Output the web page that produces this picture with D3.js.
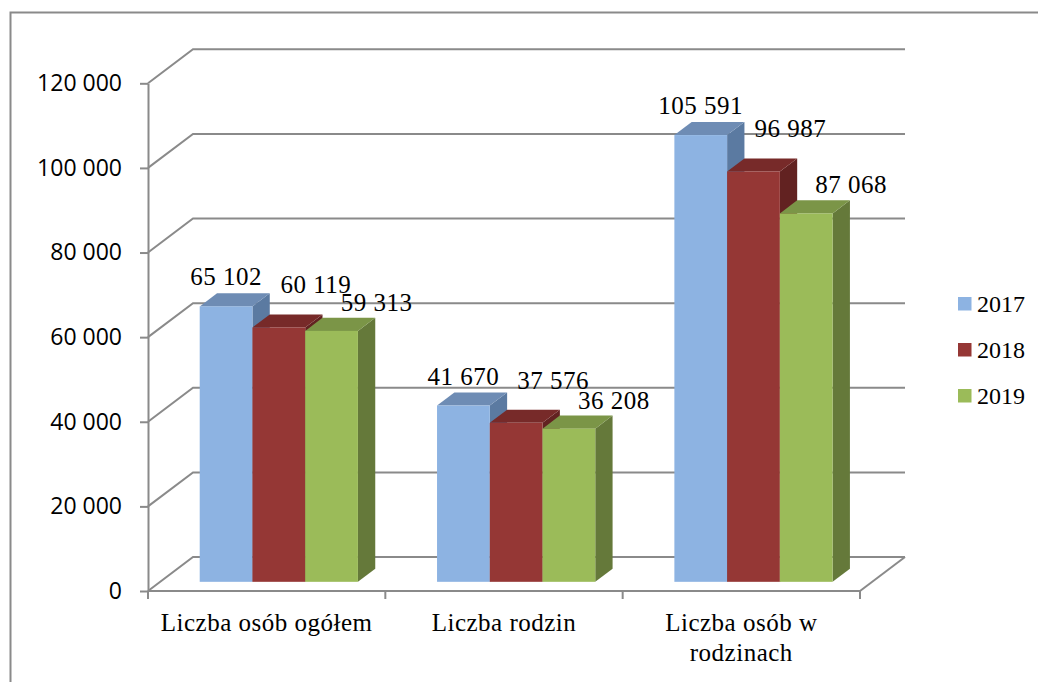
<!DOCTYPE html>
<html>
<head>
<meta charset="utf-8">
<script src="https://cdn.jsdelivr.net/npm/d3@7"></script>
<style>
  html, body { margin: 0; padding: 0; background: #ffffff; }
  svg { display: block; }
</style>
</head>
<body>
<svg id="chart" width="1038" height="682"></svg>
<script>
// ---- data ----
const categories = ["Liczba osób ogółem", "Liczba rodzin", "Liczba osób w rodzinach"];
const series = ["2017", "2018", "2019"];
const values2017 = [65102, 41670, 105591];
const values2018 = [60119, 37576, 96987];
const values2019 = [59313, 36208, 87068];
const yTicks = [0, 20000, 40000, 60000, 80000, 100000, 120000];
const yTickLabels = ["0", "20 000", "40 000", "60 000", "80 000", "100 000", "120 000"];

// ---- style ----
const seriesValues = [values2017, values2018, values2019];
const frontColors = ["#8db3e2", "#953735", "#9bbb59"];
const topColors   = ["#6e8cb4", "#772a29", "#7b9547"];
const sideColors  = ["#5b7aa1", "#622221", "#65793a"];
const labelDx = [0, 37, 45];
const labelDy = [-21, -34, -20];
const gridColor = "#8a8a8a";
const serif = "'Liberation Serif', 'Times New Roman', serif";
const sans = "'Open Sans', 'Liberation Sans', sans-serif";

const svg = d3.select("#chart");

// outer chart border
svg.append("rect")
  .attr("x", 10.5).attr("y", 12.5)
  .attr("width", 1040).attr("height", 700)
  .attr("fill", "#fff").attr("stroke", gridColor).attr("stroke-width", 2);

// scales
const x = d3.scaleBand().domain(categories).range([148, 860]).paddingInner(0).paddingOuter(0);
const xs = d3.scaleBand().domain(series).range([0, x.bandwidth()]).paddingInner(0).paddingOuter(0.75);
const y = d3.scaleLinear().domain([0, 120000]).range([591, 83.3]);

// 3D depth of the plot box
const DX = 45, DY = -34;
const f0 = 0.27, fd = 0.385;
const bdx = DX * fd, bdy = DY * fd;

// back wall gridlines with left wall diagonals
const grid = svg.append("g").attr("fill", "none").attr("stroke", gridColor).attr("stroke-width", 2);
yTicks.forEach(t => {
  const yy = y(t);
  grid.append("path")
    .attr("d", `M${x.range()[0]},${yy} L${x.range()[0] + DX},${yy + DY} L${x.range()[1] + DX},${yy + DY}`);
});
// floor right edge
grid.append("path")
  .attr("d", `M${x.range()[1]},${y(0)} L${x.range()[1] + DX},${y(0) + DY}`);

// value axis
const yAxis = d3.axisLeft(y)
  .tickValues(yTicks)
  .tickFormat((d, i) => yTickLabels[i])
  .tickSize(8).tickSizeOuter(0).tickPadding(18);
const gy = svg.append("g").attr("transform", `translate(${x.range()[0]},0)`).call(yAxis);
gy.select(".domain").attr("stroke", gridColor).attr("stroke-width", 2);
gy.selectAll(".tick line").attr("stroke", gridColor).attr("stroke-width", 2);
gy.selectAll(".tick text")
  .attr("fill", "#000")
  .style("font-family", sans).style("font-size", "23px");

// category axis
const gx = svg.append("g");
gx.append("line")
  .attr("x1", x.range()[0]).attr("x2", x.range()[1])
  .attr("y1", y(0)).attr("y2", y(0))
  .attr("stroke", gridColor).attr("stroke-width", 2);
const edges = categories.map(c => x(c)).concat([x.range()[1]]);
gx.selectAll("line.ctick").data(edges).enter().append("line")
  .attr("class", "ctick")
  .attr("x1", d => d).attr("x2", d => d)
  .attr("y1", y(0)).attr("y2", y(0) + 8)
  .attr("stroke", gridColor).attr("stroke-width", 2);

const catLabels = gx.selectAll("text.cat").data(categories).enter().append("text")
  .attr("class", "cat")
  .attr("x", d => x(d) + x.bandwidth() / 2)
  .attr("y", 631)
  .attr("text-anchor", "middle")
  .style("font-family", serif).style("font-size", "25px").style("letter-spacing", "0.5px")
  .attr("fill", "#000");
catLabels.each(function(d) {
  const t = d3.select(this);
  const words = d.split(" ");
  const maxW = x.bandwidth() - 10;
  let line = [];
  let tspan = t.append("tspan").attr("x", x(d) + x.bandwidth() / 2).attr("dy", 0);
  words.forEach(w => {
    line.push(w);
    tspan.text(line.join(" "));
    if (tspan.node().getComputedTextLength() > maxW && line.length > 1) {
      line.pop();
      tspan.text(line.join(" "));
      line = [w];
      tspan = t.append("tspan").attr("x", x(d) + x.bandwidth() / 2).attr("dy", 30).text(w);
    }
  });
});

// bars
const bars = svg.append("g");
categories.forEach((c, ci) => {
  series.forEach((s, si) => {
    const v = seriesValues[si][ci];
    const x0 = x(c) + xs(s) + DX * f0;
    const w = xs.bandwidth();
    const yb = y(0) + DY * f0;
    const yt = y(v) + DY * f0;
    const g = bars.append("g");
    g.append("path")
      .attr("d", `M${x0 + w},${yt} L${x0 + w + bdx},${yt + bdy} L${x0 + w + bdx},${yb + bdy} L${x0 + w},${yb} Z`)
      .attr("fill", sideColors[si]);
    g.append("path")
      .attr("d", `M${x0},${yt} L${x0 + w},${yt} L${x0 + w + bdx},${yt + bdy} L${x0 + bdx},${yt + bdy} Z`)
      .attr("fill", topColors[si]);
    g.append("rect")
      .attr("x", x0).attr("y", yt)
      .attr("width", w).attr("height", yb - yt)
      .attr("fill", frontColors[si]);
  });
});

// data labels
const fmt = v => d3.format(",")(v).replace(/,/g, " ");
const labels = svg.append("g");
categories.forEach((c, ci) => {
  series.forEach((s, si) => {
    const v = seriesValues[si][ci];
    const cx = x(c) + xs(s) + DX * f0 + xs.bandwidth() / 2;
    const yt = y(v) + DY * f0;
    labels.append("text")
      .attr("x", cx + labelDx[si])
      .attr("y", yt + labelDy[si])
      .attr("text-anchor", "middle")
      .style("font-family", serif).style("font-size", "25px").style("letter-spacing", "0.5px")
      .attr("fill", "#000")
      .text(fmt(v));
  });
});

// legend
const legend = svg.append("g").attr("transform", "translate(958,297)");
series.forEach((s, si) => {
  const g = legend.append("g").attr("transform", `translate(0,${si * 46})`);
  g.append("rect").attr("width", 13.5).attr("height", 13.5).attr("fill", frontColors[si]);
  g.append("text")
    .attr("x", 19).attr("y", 15)
    .style("font-family", serif).style("font-size", "24px")
    .attr("fill", "#000")
    .text(s);
});
</script>
</body>
</html>
